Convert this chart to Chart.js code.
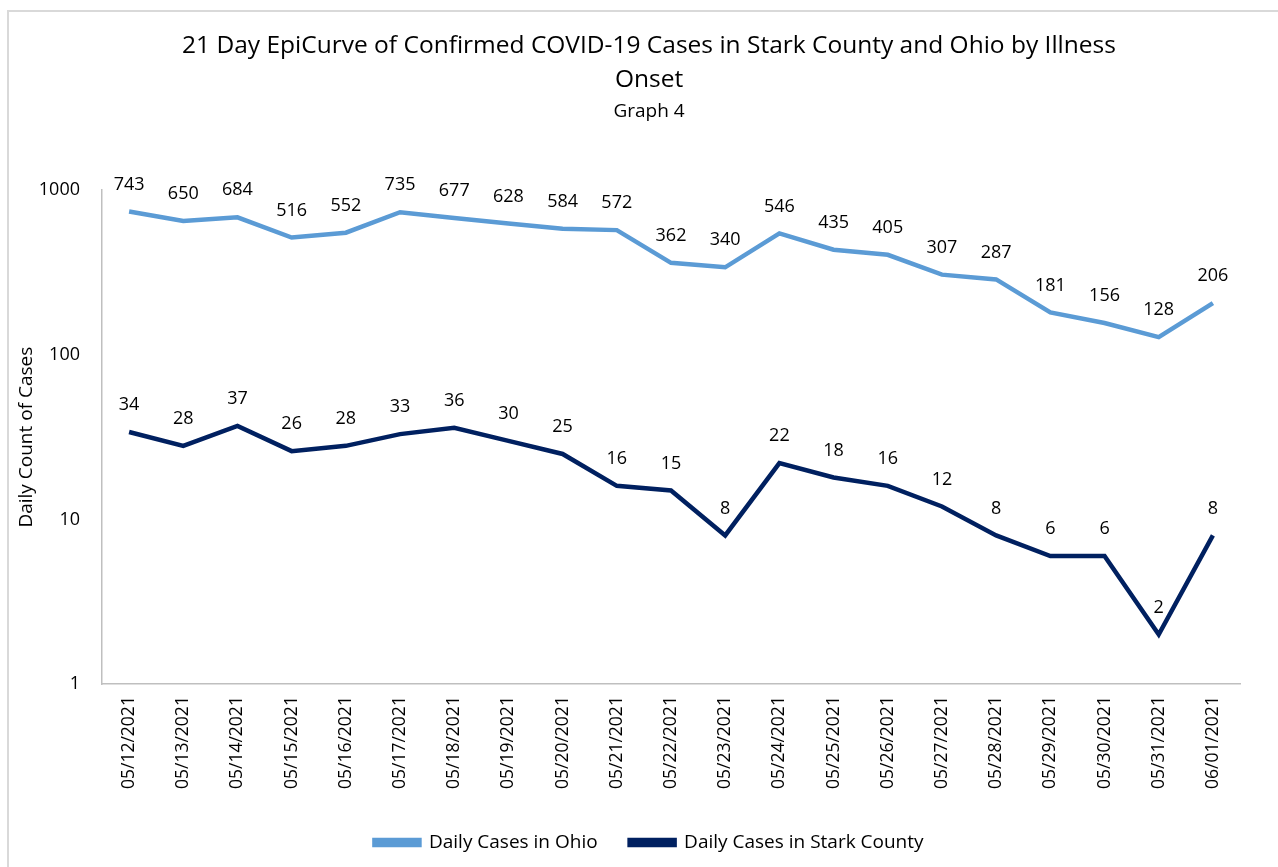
<!DOCTYPE html>
<html>
<head>
<meta charset="utf-8">
<script src="https://cdn.jsdelivr.net/npm/chart.js@4"></script>
<style>
  html, body { margin: 0; padding: 0; background: #fff; overflow: hidden; }
  #frame { position: absolute; left: 7px; top: 10px; width: 1300px; height: 900px; border: 2px solid #d9d9d9; box-sizing: border-box; }
  #chart-canvas { position: absolute; left: 0; top: 0; }
</style>
</head>
<body>
<div id="frame"></div>
<canvas id="chart-canvas" width="1278" height="867"></canvas>
<script>
const dates = ['05/12/2021', '05/13/2021', '05/14/2021', '05/15/2021', '05/16/2021', '05/17/2021', '05/18/2021',
  '05/19/2021', '05/20/2021', '05/21/2021', '05/22/2021', '05/23/2021', '05/24/2021', '05/25/2021',
  '05/26/2021', '05/27/2021', '05/28/2021', '05/29/2021', '05/30/2021', '05/31/2021', '06/01/2021'];
const ohioCases = [743, 650, 684, 516, 552, 735, 677, 628, 584, 572, 362, 340, 546, 435, 405, 307, 287, 181, 156, 128, 206];
const starkCases = [34, 28, 37, 26, 28, 33, 36, 30, 25, 16, 15, 8, 22, 18, 16, 12, 8, 6, 6, 2, 8];
const yTicks = [1, 10, 100, 1000];

const fontFamily = "'Open Sans', 'Noto Sans', sans-serif";

// draws the value above every point
const pointLabels = {
  id: 'pointLabels',
  afterDatasetsDraw(chart) {
    const ctx = chart.ctx;
    ctx.save();
    ctx.font = '18px ' + fontFamily;
    ctx.fillStyle = '#000';
    ctx.textAlign = 'center';
    ctx.textBaseline = 'middle';
    chart.data.datasets.forEach((ds, i) => {
      chart.getDatasetMeta(i).data.forEach((pt, j) => {
        ctx.fillText(ds.data[j], pt.x, pt.y - 27);
      });
    });
    ctx.restore();
  }
};

new Chart(document.getElementById('chart-canvas'), {
  type: 'line',
  data: {
    labels: dates,
    datasets: [
      {
        label: 'Daily Cases in Ohio',
        data: ohioCases,
        borderColor: '#5b9bd5',
        backgroundColor: '#5b9bd5',
        borderWidth: 4.5,
        pointRadius: 0,
        tension: 0,
      },
      {
        label: 'Daily Cases in Stark County',
        data: starkCases,
        borderColor: '#002060',
        backgroundColor: '#002060',
        borderWidth: 4.5,
        pointRadius: 0,
        tension: 0,
      },
    ],
  },
  options: {
    responsive: false,
    animation: false,
    // right padding pushed past the edge so title + legend centre like the original
    layout: { padding: { top: 0, left: 15, right: -5, bottom: 5 } },
    scales: {
      x: {
        offset: true,
        grid: { display: false, drawTicks: false },
        border: { color: '#bfbfbf', width: 1.5 },
        ticks: {
          minRotation: 90,
          maxRotation: 90,
          padding: 12,
          color: '#000',
          font: { family: fontFamily, size: 17.5 },
        },
      },
      y: {
        type: 'logarithmic',
        min: 1,
        max: 1000,
        afterBuildTicks(axis) {
          axis.ticks = yTicks.map(v => ({ value: v }));
        },
        afterFit(axis) {
          axis.width = 87;
        },
        grid: { display: false, drawTicks: false },
        border: { color: '#bfbfbf', width: 1.5 },
        ticks: {
          padding: 22,
          color: '#000',
          font: { family: fontFamily, size: 18 },
          callback: v => String(v),
        },
        title: {
          display: true,
          text: 'Daily Count of Cases',
          color: '#000',
          font: { family: fontFamily, size: 19 },
          padding: 0,
        },
      },
      // empty spacer on the right edge
      spacer: {
        type: 'linear',
        position: 'right',
        afterFit(axis) {
          axis.width = 43;
        },
        grid: { display: false, drawTicks: false },
        border: { display: false },
        ticks: { display: false },
      },
    },
    plugins: {
      title: {
        display: true,
        text: ['21 Day EpiCurve of Confirmed COVID-19 Cases in Stark County and Ohio by Illness', 'Onset'],
        color: '#000',
        font: { family: fontFamily, size: 24.5, weight: 'normal', lineHeight: 1.375 },
        padding: { top: 29, bottom: 4 },
      },
      subtitle: {
        display: true,
        text: 'Graph 4',
        color: '#000',
        font: { family: fontFamily, size: 19 },
        padding: { top: 0, bottom: 67 },
      },
      legend: {
        position: 'bottom',
        labels: {
          boxWidth: 45,
          boxHeight: 5,
          padding: 32,
          color: '#000',
          font: { family: fontFamily, size: 19 },
        },
      },
      tooltip: { enabled: false },
    },
  },
  plugins: [pointLabels],
});
</script>
</body>
</html>
